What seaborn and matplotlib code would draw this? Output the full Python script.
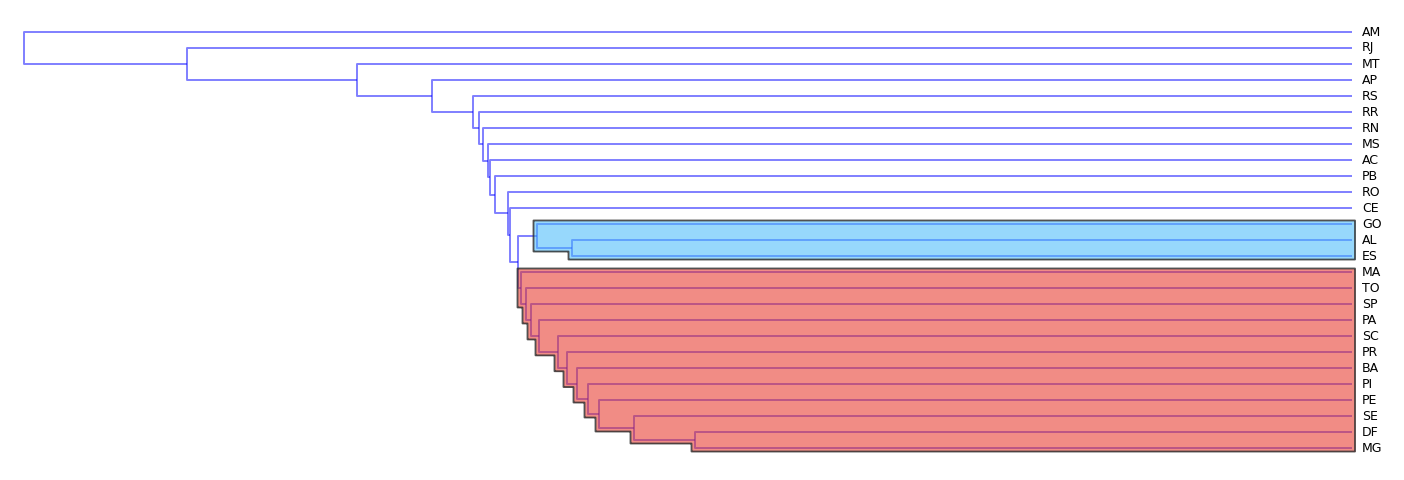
import numpy as np
import matplotlib
matplotlib.use("Agg")
import matplotlib.pyplot as plt
import seaborn as sns

# leaves, top to bottom
labels = ["AM", "RJ", "MT", "AP", "RS", "RR", "RN", "MS", "AC", "PB", "RO", "CE",
          "GO", "AL", "ES", "MA", "TO", "SP", "PA", "SC", "PR", "BA", "PI", "PE",
          "SE", "DF", "MG"]

# merges (bottom-up): m0, m1, ...
merge_left = ["DF", "SE", "PE", "PI", "BA", "PR", "SC", "PA", "SP", "TO", "MA",
              "AL", "GO", "m12", "CE", "RO", "PB", "AC", "MS", "RN", "RR", "RS",
              "AP", "MT", "RJ", "AM"]
merge_right = ["MG", "m0", "m1", "m2", "m3", "m4", "m5", "m6", "m7", "m8", "m9",
               "ES", "m11", "m10", "m13", "m14", "m15", "m16", "m17", "m18", "m19",
               "m20", "m21", "m22", "m23", "m24"]
merge_height = [6.57, 7.18, 7.53, 7.64, 7.75, 7.85, 7.94, 8.13, 8.21, 8.26, 8.31,
                7.80, 8.15, 8.34, 8.42, 8.44, 8.57, 8.62, 8.64, 8.69, 8.73, 8.79,
                9.20, 9.95, 11.65, 13.28]

# highlighted clusters
cluster_nodes = ["m12", "m10"]
cluster_fill = ["#48BBFB", "#E83628"]

sns.set_style("white")
fig = plt.figure(figsize=(14.04, 4.8), dpi=100)
ax = fig.add_axes([0, 0, 1, 1])

# positions
ypos = {lab: i for i, lab in enumerate(labels)}
hpos = {lab: 0.0 for lab in labels}
span = {}
children = {}
for k, (a, b, h) in enumerate(zip(merge_left, merge_right, merge_height)):
    name = f"m{k}"
    ypos[name] = (ypos[a] + ypos[b]) / 2
    hpos[name] = h
    span[name] = (min(ypos[a], ypos[b]), max(ypos[a], ypos[b]))
    children[name] = (a, b)

line_col = (0, 0, 1, 0.5)
for k, (a, b, h) in enumerate(zip(merge_left, merge_right, merge_height)):
    ax.plot([hpos[a], h, h, hpos[b]], [ypos[a], ypos[a], ypos[b], ypos[b]],
            color=line_col, lw=1.4, solid_capstyle="butt", zorder=1)


def subtree(node):
    if node not in children:
        return [], [node]
    nodes, leaves = [node], []
    for c in children[node]:
        n, l = subtree(c)
        nodes += n
        leaves += l
    return nodes, leaves


pad_y, pad_x = 0.22, 0.035
for node, col in zip(cluster_nodes, cluster_fill):
    nodes, leaves = subtree(node)
    y0 = min(ypos[l] for l in leaves) - pad_y
    y1 = max(ypos[l] for l in leaves) + pad_y
    yy = np.linspace(y0, y1, 6000)
    left = np.full_like(yy, -pad_x)
    for n in nodes:
        lo, hi = span[n]
        m = (yy >= lo - pad_y) & (yy <= hi + pad_y)
        left[m] = np.maximum(left[m], hpos[n] + pad_x)
    ax.fill_betweenx(yy, left, -0.03, color=col, alpha=0.57, lw=0, zorder=2)
    ax.fill_betweenx(yy, left, -0.03, facecolor="none", edgecolor="#333333",
                     lw=1.3, alpha=0.85, zorder=3)

for lab in labels:
    ax.text(-0.10, ypos[lab], lab, ha="left", va="center", fontsize=9,
            color="#000000")

ax.set_xlim(13.52, -0.52)
ax.set_ylim(28, -2)
ax.axis("off")
fig.savefig("out.png", dpi=100)
